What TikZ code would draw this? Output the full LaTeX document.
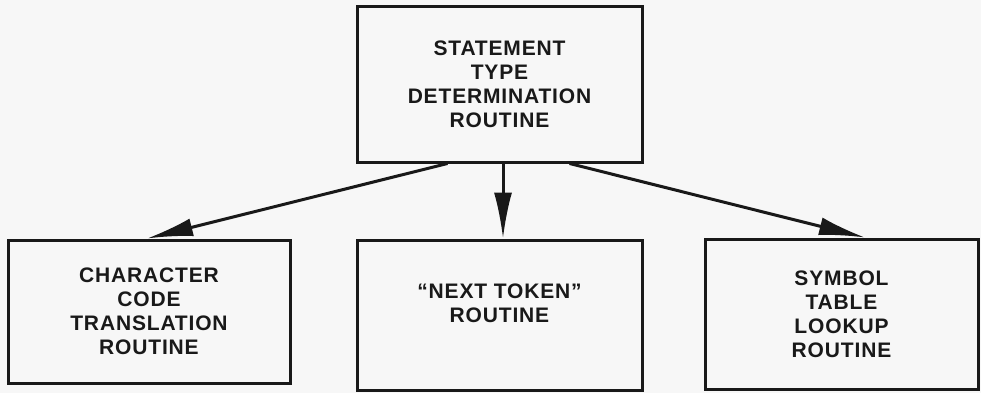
\documentclass[tikz,border=0pt]{standalone}
\usepackage{fontspec}
\setmainfont{Liberation Sans}[LetterSpace=4]
\usetikzlibrary{arrows.meta}
\begin{document}
\begin{tikzpicture}[x=1pt,y=-1pt,
  box/.style={draw=black!90, line width=3pt, align=center, inner sep=0pt,
    font=\fontsize{21}{24}\selectfont\bfseries, text=black!90},
  arr/.style={draw=black!90, line width=3pt, -{Latex[length=46pt,width=18pt]}}]
\fill[black!3] (0,0) rectangle (981,393);
\useasboundingbox (0,0) rectangle (981,393);
\node[box, minimum width=285pt, minimum height=155pt] (top) at (499.5,84.5) {STATEMENT\\TYPE\\DETERMINATION\\ROUTINE};
\node[box, minimum width=282pt, minimum height=143pt] (left) at (149,311.5) {CHARACTER\\CODE\\TRANSLATION\\ROUTINE};
\node[box, minimum width=285pt, minimum height=150pt] (mid) at (499.5,315) {``NEXT TOKEN''\\ROUTINE\\\mbox{}};
\node[box, minimum width=273pt, minimum height=150pt] (right) at (841.5,314) {SYMBOL\\TABLE\\LOOKUP\\ROUTINE};
\draw[arr] ([xshift=-52pt]top.south) -- ([xshift=-2pt]left.north);
\draw[arr] ([xshift=3.5pt]top.south) -- ([xshift=3.5pt]mid.north);
\draw[arr] ([xshift=70pt]top.south) -- ([xshift=23.5pt]right.north);
\end{tikzpicture}
\end{document}
